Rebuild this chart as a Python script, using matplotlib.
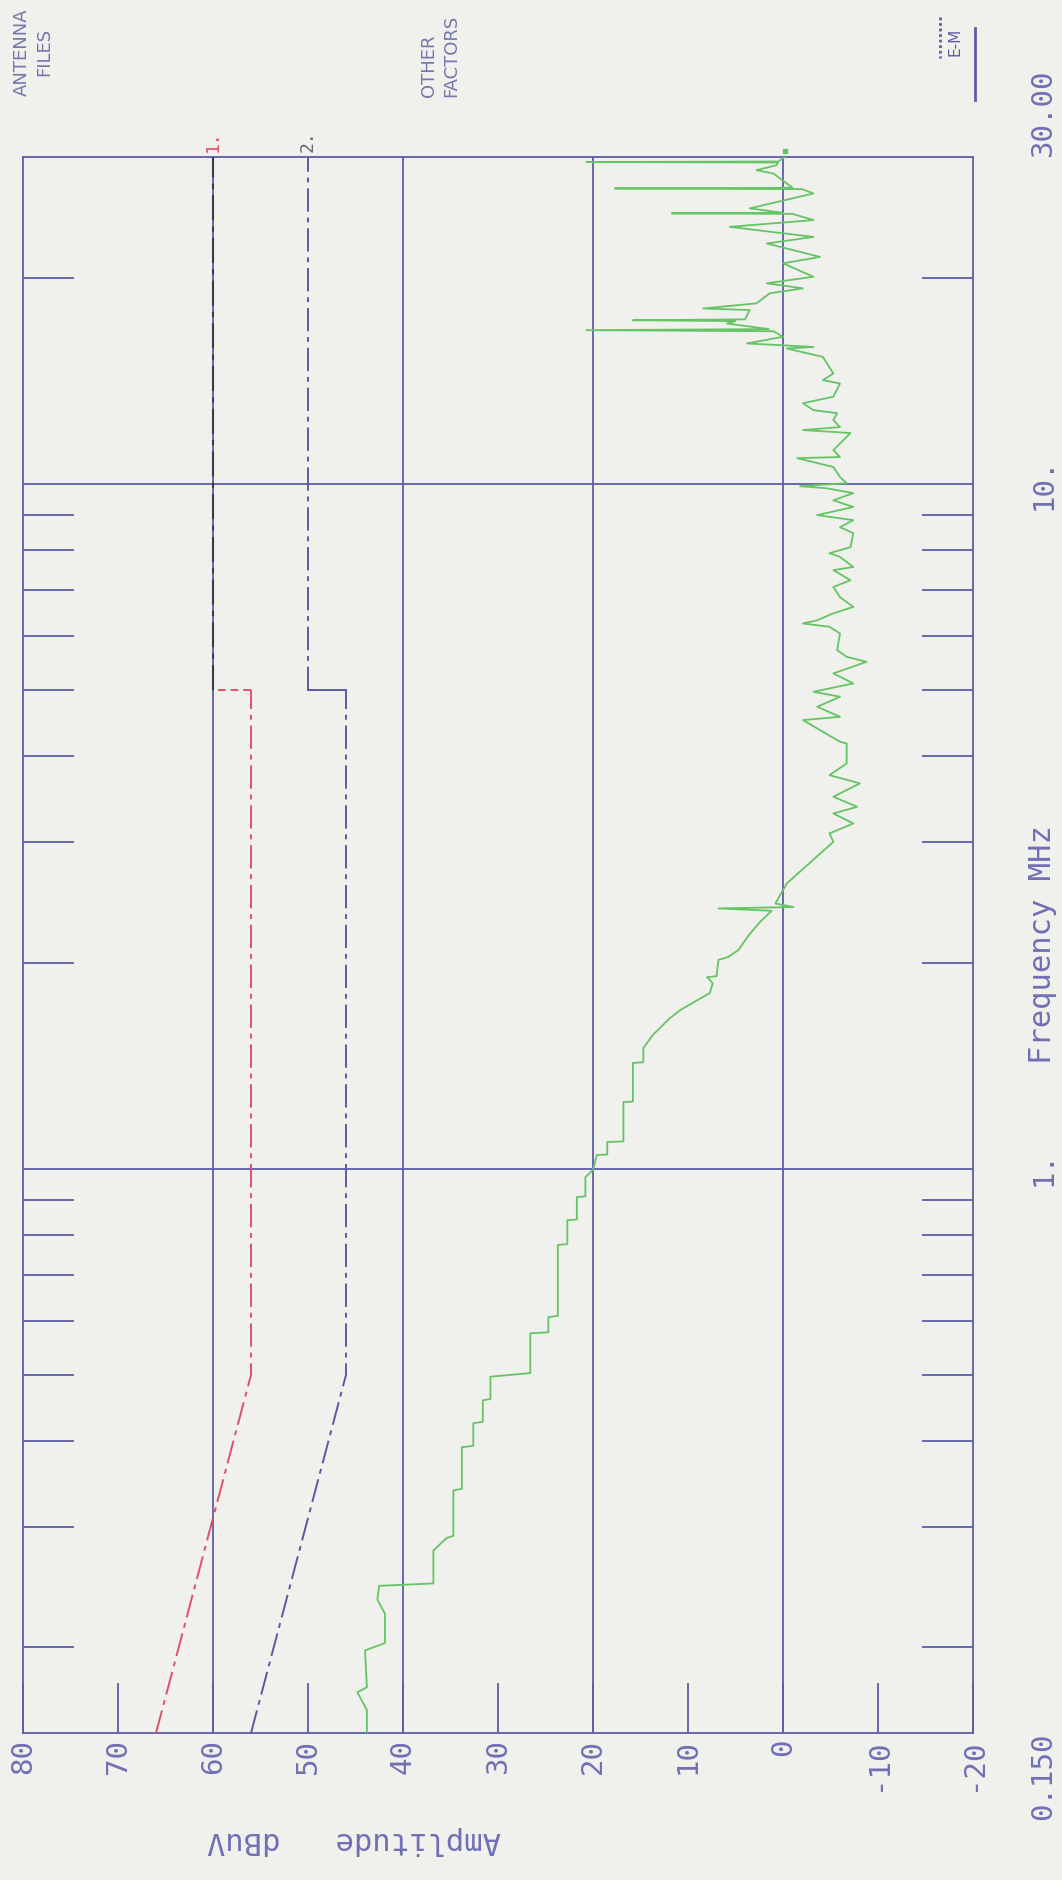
import matplotlib
matplotlib.use("Agg")
import matplotlib.pyplot as plt
import matplotlib.transforms as mtransforms
from matplotlib.lines import Line2D

# amplitude axis (dBuV), frequency axis (MHz)
amp_ticks = [80, 70, 60, 50, 40, 30, 20, 10, 0, -10, -20]
amp_grid = [60, 40, 20, 0]
freq_grid = [1, 10]
freq_minor = [0.2, 0.3, 0.4, 0.5, 0.6, 0.7, 0.8, 0.9,
              2, 3, 4, 5, 6, 7, 8, 9, 20]
freq_labels = {0.15: "0.150", 1: "1.", 10: "10.", 30: "30.00"}

# limit line 1 (red) and line 2 (blue)
lim1_freq = [0.15, 0.5, 5]
lim1_amp = [66, 56, 56]
lim1_step_amp = [56, 60]
lim1_hi_freq = [5, 30]
lim1_hi_amp = [60, 60]
lim2_freq = [0.15, 0.5, 5]
lim2_amp = [56, 46, 46]
lim2_step_amp = [46, 50]
lim2_hi_freq = [5, 30]
lim2_hi_amp = [50, 50]

# measured trace (green)
trace_freq = [
    0.150, 0.162, 0.172, 0.175, 0.198, 0.203, 0.224, 0.235, 0.246, 0.248,
    0.277, 0.289, 0.291, 0.339, 0.341, 0.392, 0.394, 0.425, 0.427, 0.459,
    0.461, 0.497, 0.503, 0.575, 0.577, 0.607, 0.610,
    0.774, 0.776, 0.841, 0.843, 0.909, 0.911, 0.972, 0.996, 1.047, 1.049,
    1.094, 1.096, 1.251, 1.253, 1.427, 1.430, 1.500, 1.568, 1.659, 1.705,
    1.805, 1.866, 1.904, 1.910, 2.017, 2.037, 2.085,
    2.193, 2.293, 2.380, 2.399, 2.410, 2.439, 2.609, 3.001, 3.087, 3.192,
    3.301, 3.376, 3.492, 3.652, 3.755, 3.906, 4.178, 4.201, 4.518, 4.569,
    4.725, 4.887, 4.970, 5.111, 5.286, 5.496, 5.589, 5.717, 6.046, 6.182,
    6.253,
    6.32, 6.47, 6.61, 6.83, 7.07, 7.23, 7.48, 7.56, 7.82, 7.92, 8.08, 8.47,
    8.64, 8.85, 9.00, 9.25, 9.46, 9.69, 9.85, 9.92, 10.02, 10.23, 10.58,
    10.90, 10.94, 11.20, 11.86, 11.98, 12.10, 12.39, 12.68, 12.81, 13.11,
    13.40, 14.01, 14.17, 14.49, 15.32, 15.76, 15.84, 16.03, 16.39, 16.70,
    16.76, 16.82, 17.14, 17.28, 17.33, 17.38, 17.93, 18.03, 18.34, 18.97,
    19.29, 19.62, 20.06, 20.98, 21.44, 22.43, 22.93, 23.72, 24.27, 24.78,
    24.82, 24.87, 25.24, 26.54, 26.93, 26.99, 27.05, 28.38, 28.70, 29.18,
    29.45, 29.50, 29.55, 30.0,
]
trace_amp = [
    43.8, 43.8, 44.8, 43.8, 44.0, 41.9, 41.9, 42.7, 42.5, 36.8,
    36.8, 35.4, 34.7, 34.7, 33.8, 33.8, 32.6, 32.6, 31.6, 31.6,
    30.8, 30.8, 26.6, 26.6, 24.7, 24.7, 23.7,
    23.7, 22.7, 22.7, 21.7, 21.7, 20.8, 20.8, 20.0, 19.6, 18.5,
    18.5, 16.8, 16.8, 15.8, 15.8, 14.7, 14.7, 13.7, 11.9, 10.8,
    7.7, 7.4, 8.0, 7.0, 6.8, 5.8, 4.7,
    3.6, 2.4, 1.2, 6.8, -1.1, 0.8, -0.4, -5.3, -4.9, -7.4,
    -5.3, -7.8, -5.3, -8.1, -4.9, -6.7, -6.7, -6.0, -2.1, -6.0,
    -3.6, -6.0, -3.2, -7.4, -5.3, -8.8, -6.7, -5.7, -6.0, -4.9,
    -2.1,
    -3.6, -5.3, -7.4, -6.0, -5.3, -7.1, -5.3, -7.4, -6.0, -4.9, -7.1, -7.4,
    -6.0, -7.4, -3.6, -7.4, -5.3, -7.4, -4.6, -1.8, -6.7, -6.0, -5.3,
    -1.5, -6.0, -5.3, -7.1, -2.1, -6.0, -5.3, -5.7, -3.2, -2.1,
    -5.3, -6.0, -4.2, -5.3, -4.2, -0.4, -3.2, 3.8, 0.0, 1.0,
    20.7, 1.5, 5.9, 5.0, 15.8, 4.0, 3.5, 8.4, 2.8, 1.4,
    -2.1, 1.7, -3.2, 0.0, -3.9, 1.7, -3.2, 5.6, -3.2, -1.0,
    11.7, 0.0, 3.5, -3.2, -2.0, 17.7, -1.0, 1.0, 2.8, 0.7,
    0.5, 20.7, 0.5, -0.2,
]

BG = "#f0f0ec"
FRAME = "#5c5ca8"
TEXT = "#6f6fb4"
GREEN = "#66c466"
RED = "#e0506a"
MONO = "DejaVu Sans Mono"

fig = plt.figure(figsize=(10.62, 18.8), dpi=100, facecolor=BG)
ax = fig.add_axes([23 / 1062, 1 - 1733 / 1880, 950 / 1062, 1576 / 1880])
ax.set_facecolor(BG)
ax.set_yscale("log")
ax.set_xlim(80, -20)
ax.set_ylim(0.15, 30)

for s in ax.spines.values():
    s.set_color(FRAME)
    s.set_linewidth(1.3)

# grid
for a in amp_grid:
    ax.axvline(a, color=FRAME, lw=1.3, zorder=1)
for f in freq_grid:
    ax.axhline(f, color=FRAME, lw=1.3, zorder=1)

# amplitude ticks / labels (bottom, rotated)
ax.set_xticks(amp_ticks)
ax.set_xticklabels([str(v) for v in amp_ticks], rotation=90, fontsize=21,
                   family=MONO, color=TEXT)
ax.tick_params(axis="x", direction="in", length=36, width=1.3, color=FRAME,
               pad=4, top=False)

# frequency ticks on both sides
ax.set_yticks(freq_minor, minor=True)
ax.set_yticks([])
ax.yaxis.set_minor_formatter(plt.NullFormatter())
ax.tick_params(axis="y", which="minor", direction="in", length=37, width=1.3,
               color=FRAME, left=True, right=True)

# frequency labels at right
tr = mtransforms.blended_transform_factory(ax.transAxes, ax.transData)
for f, lab in freq_labels.items():
    if f in (1, 10):
        va = "center"
    elif f < 1:
        va = "top"
    else:
        va = "bottom"
    ax.text(1.074, f, lab, transform=tr, rotation=90, ha="center",
            va=va, fontsize=21, family=MONO, color=TEXT)

ax.text(1.073, 0.50, "Frequency MHz", transform=ax.transAxes, rotation=90,
        ha="center", va="center", fontsize=22, family=MONO, color=TEXT)
ax.text(0.348, -0.068, "Amplitude   dBuV", transform=ax.transAxes,
        rotation=180, ha="center", va="center", fontsize=22, family=MONO,
        color=TEXT)

# limit lines
dd = (0, (12, 3, 2.5, 3))
ax.plot(lim1_amp, lim1_freq, color=RED, lw=1.4, linestyle=dd, zorder=3)
ax.plot(lim1_step_amp, [lim1_freq[-1]] * 2, color=RED, lw=1.4,
        linestyle=(0, (4, 2.5)), zorder=3)
ax.plot(lim1_hi_amp, lim1_hi_freq, color="#3a3a4a", lw=1.5, linestyle=dd,
        zorder=3)
ax.plot(lim2_amp, lim2_freq, color="#5a5aa0", lw=1.4, linestyle=dd, zorder=3)
ax.plot(lim2_step_amp, [lim2_freq[-1]] * 2, color="#5a5aa0", lw=1.4, zorder=3)
ax.plot(lim2_hi_amp, lim2_hi_freq, color="#5a5aa0", lw=1.4, linestyle=dd,
        zorder=3)

tx = mtransforms.blended_transform_factory(ax.transData, ax.transAxes)
ax.text(lim1_hi_amp[-1], 1.003, "1.", transform=tx, rotation=90, ha="center",
        va="bottom", fontsize=13, family=MONO, color=RED)
ax.text(lim2_hi_amp[-1], 1.003, "2.", transform=tx, rotation=90, ha="center",
        va="bottom", fontsize=13, family=MONO, color="#666677")

# measured trace
ax.plot(trace_amp, trace_freq, color=GREEN, lw=1.3, zorder=4)
ax.plot([trace_amp[-1]], [1.004], transform=tx, marker="s", ms=3.5,
        color=GREEN, clip_on=False)

# header texts
fig.text(33 / 1062, 1 - 52 / 1880, "ANTENNA\nFILES", rotation=90,
         ha="center", va="center", multialignment="center", fontsize=13,
         color="#7478aa", linespacing=1.3)
fig.text(440 / 1062, 1 - 97 / 1880, "OTHER\nFACTORS", rotation=90,
         ha="center", va="bottom", multialignment="left", fontsize=13,
         color="#7478aa", linespacing=1.3)
fig.text(955 / 1062, 1 - 42 / 1880, "E-M", rotation=90, ha="center",
         va="center", fontsize=11, color=FRAME)
fig.add_artist(Line2D([975 / 1062] * 2, [1 - 28 / 1880, 1 - 100 / 1880],
                      transform=fig.transFigure, color=FRAME, lw=2))
fig.add_artist(Line2D([940 / 1062] * 2, [1 - 17 / 1880, 1 - 58 / 1880],
                      transform=fig.transFigure, color=FRAME, lw=2,
                      linestyle=(0, (1, 1))))

fig.savefig("out.png", dpi=100, facecolor=BG)
